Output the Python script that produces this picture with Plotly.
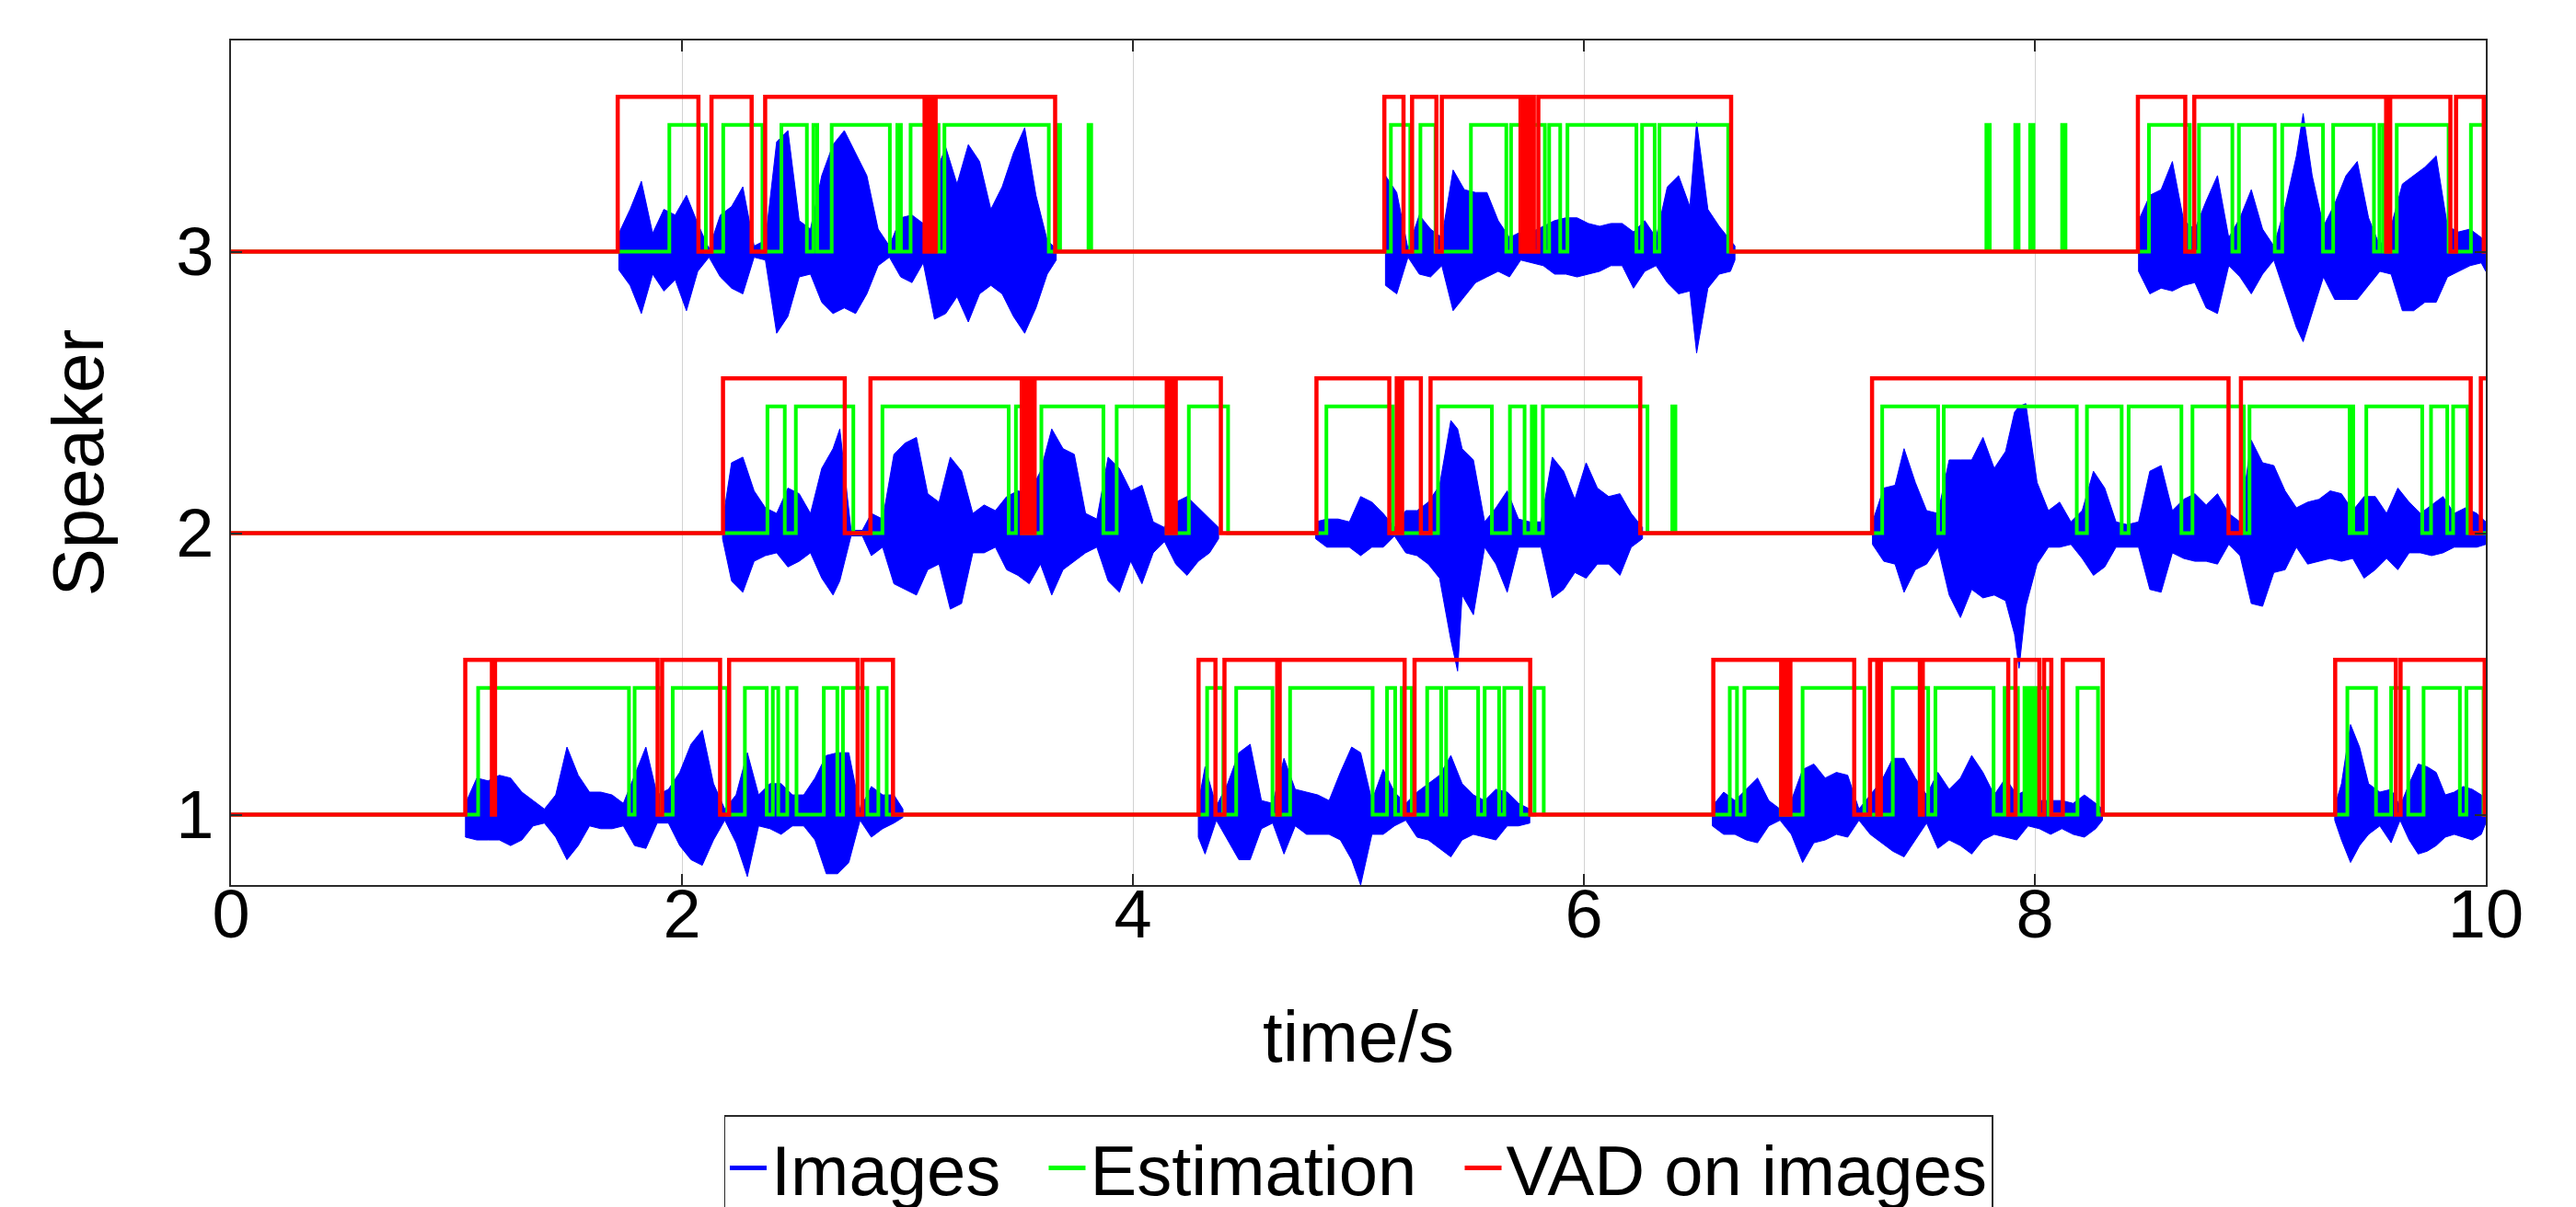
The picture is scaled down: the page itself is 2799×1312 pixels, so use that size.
import plotly.graph_objects as go

# ---------------- data ----------------
T_END = 10.0

# VAD on images (red): transition times (rise, fall, rise, ...) per speaker
vad_s1 = [1.039, 1.157, 1.171, 1.892, 1.912, 2.169, 2.209, 2.779, 2.800, 2.936,
          4.291, 4.366, 4.406, 4.640, 4.651, 5.205, 5.249, 5.762,
          6.574, 6.875, 6.887, 6.899, 6.916, 7.199, 7.269, 7.301, 7.317, 7.490, 7.503,
          7.882, 7.914, 8.020, 8.041, 8.073, 8.124, 8.301,
          9.332, 9.601, 9.622, 9.995]
vad_s2 = [2.182, 2.722, 2.836, 3.507, 3.517, 3.527, 3.537, 3.547, 3.564,
          4.150, 4.162, 4.174, 4.190, 4.390,
          4.814, 5.137, 5.170, 5.182, 5.194, 5.277, 5.320, 6.250,
          7.278, 8.859, 8.914, 9.933, 9.978]
vad_s3 = [1.715, 2.073, 2.131, 2.309, 2.369, 3.076, 3.086, 3.096, 3.106, 3.116, 3.125, 3.655,
          5.115, 5.200, 5.238, 5.346, 5.370, 5.719, 5.729, 5.739, 5.749, 5.757, 5.765,
          5.778, 5.798, 6.653,
          8.457, 8.667, 8.707, 9.558, 9.576, 9.843, 9.868, 9.991]

# Estimation (green): transition times per speaker
est_s1 = [1.096, 1.765, 1.790, 1.910, 1.959, 2.201, 2.279, 2.376, 2.403, 2.427, 2.467, 2.508,
          2.629, 2.689, 2.714, 2.822, 2.871, 2.908,
          4.329, 4.401, 4.458, 4.619, 4.697, 5.063, 5.127, 5.163, 5.192, 5.237, 5.305, 5.367,
          5.389, 5.531, 5.560, 5.624, 5.647, 5.722, 5.781, 5.822,
          6.647, 6.679, 6.712, 6.873, 6.970, 7.244, 7.370, 7.527, 7.559, 7.817, 7.866, 7.925,
          7.954, 7.964, 7.974, 7.984, 7.994, 8.004, 8.012, 8.060, 8.189, 8.280,
          9.386, 9.513, 9.580, 9.656, 9.724, 9.885, 9.914, 9.990]
est_s2 = [2.379, 2.456, 2.505, 2.760, 2.889, 3.449, 3.481, 3.510, 3.594, 3.869, 3.928, 4.150,
          4.248, 4.422,
          4.858, 5.153, 5.353, 5.592, 5.672, 5.737, 5.769, 5.785, 5.818, 6.282, 6.392, 6.406,
          7.323, 7.571, 7.596, 8.186, 8.231, 8.385, 8.416, 8.650, 8.699, 8.927, 8.952, 9.396,
          9.404, 9.412, 9.470, 9.718, 9.757, 9.829, 9.855, 9.919]
est_s3 = [1.944, 2.106, 2.183, 2.357, 2.441, 2.554, 2.583, 2.600, 2.664, 2.922, 2.955, 2.971,
          3.014, 3.138, 3.164, 3.627, 3.665, 3.677, 3.803, 3.815,
          5.144, 5.230, 5.275, 5.342, 5.499, 5.656, 5.677, 5.827, 5.846, 5.895, 5.927, 6.233,
          6.258, 6.314, 6.335, 6.640,
          7.785, 7.800, 7.913, 7.928, 7.979, 7.994, 8.121, 8.136,
          8.506, 8.687, 8.728, 8.876, 8.905, 9.064, 9.097, 9.278, 9.323, 9.504, 9.528, 9.545,
          9.605, 9.835, 9.934]

# Images (blue): waveform envelope (time, upper amplitude, lower amplitude) per segment
s1a_t = [1.04, 1.09, 1.14, 1.19, 1.24, 1.29, 1.34, 1.39, 1.44, 1.49, 1.54, 1.59, 1.64, 1.69, 1.74,
         1.79, 1.84, 1.89, 1.94, 1.99, 2.04, 2.09, 2.14, 2.19, 2.24, 2.29, 2.34, 2.39, 2.44, 2.49,
         2.54, 2.59, 2.64, 2.69, 2.74, 2.79, 2.84, 2.89, 2.94, 2.98]
s1a_up = [0.04, 0.13, 0.12, 0.14, 0.13, 0.08, 0.05, 0.02, 0.07, 0.24, 0.14, 0.08, 0.08, 0.07, 0.04,
          0.14, 0.24, 0.07, 0.09, 0.15, 0.25, 0.30, 0.11, 0.02, 0.07, 0.22, 0.07, 0.11, 0.11, 0.07,
          0.07, 0.13, 0.21, 0.22, 0.22, 0.02, 0.10, 0.07, 0.07, 0.02]
s1a_lo = [0.08, 0.09, 0.09, 0.09, 0.11, 0.09, 0.04, 0.03, 0.08, 0.16, 0.11, 0.04, 0.05, 0.05, 0.04,
          0.11, 0.12, 0.03, 0.03, 0.11, 0.16, 0.18, 0.09, 0.02, 0.10, 0.22, 0.04, 0.05, 0.07, 0.04,
          0.04, 0.09, 0.21, 0.21, 0.17, 0.02, 0.08, 0.05, 0.03, 0.01]

s1b_t = [4.29, 4.32, 4.37, 4.42, 4.47, 4.52, 4.57, 4.62, 4.67, 4.72, 4.77, 4.82, 4.87, 4.92, 4.97,
         5.01, 5.06, 5.11, 5.16, 5.21, 5.26, 5.31, 5.36, 5.41, 5.46, 5.51, 5.56, 5.61, 5.66, 5.71, 5.76]
s1b_up = [0.04, 0.17, 0.03, 0.11, 0.22, 0.25, 0.05, 0.04, 0.20, 0.09, 0.08, 0.07, 0.05, 0.15, 0.24,
          0.22, 0.05, 0.16, 0.08, 0.04, 0.08, 0.11, 0.14, 0.21, 0.11, 0.07, 0.05, 0.09, 0.08, 0.04, 0.02]
s1b_lo = [0.08, 0.14, 0.02, 0.09, 0.16, 0.16, 0.05, 0.03, 0.14, 0.04, 0.07, 0.07, 0.07, 0.09, 0.16,
          0.25, 0.07, 0.07, 0.04, 0.02, 0.08, 0.09, 0.12, 0.15, 0.09, 0.07, 0.08, 0.09, 0.04, 0.04, 0.03]

s1c_t = [6.57, 6.62, 6.67, 6.72, 6.77, 6.82, 6.87, 6.92, 6.97, 7.02, 7.07, 7.12, 7.17, 7.22, 7.27,
         7.32, 7.37, 7.42, 7.47, 7.52, 7.57, 7.62, 7.67, 7.72, 7.77, 7.82, 7.87, 7.92, 7.97, 8.02,
         8.07, 8.12, 8.17, 8.22, 8.27, 8.30]
s1c_up = [0.03, 0.08, 0.05, 0.09, 0.13, 0.05, 0.02, 0.05, 0.16, 0.18, 0.13, 0.15, 0.14, 0.02, 0.07,
          0.12, 0.20, 0.20, 0.13, 0.07, 0.15, 0.09, 0.13, 0.21, 0.15, 0.07, 0.13, 0.07, 0.09, 0.05,
          0.05, 0.05, 0.04, 0.07, 0.04, 0.02]
s1c_lo = [0.04, 0.07, 0.07, 0.09, 0.10, 0.04, 0.02, 0.07, 0.17, 0.10, 0.09, 0.07, 0.08, 0.02, 0.07,
          0.10, 0.13, 0.15, 0.09, 0.03, 0.12, 0.09, 0.11, 0.14, 0.09, 0.07, 0.08, 0.09, 0.04, 0.05,
          0.07, 0.05, 0.07, 0.08, 0.05, 0.02]

s1d_t = [9.33, 9.36, 9.40, 9.44, 9.48, 9.53, 9.58, 9.62, 9.66, 9.70, 9.74, 9.78, 9.82, 9.86, 9.90,
         9.94, 9.98, 10.0]
s1d_up = [0.03, 0.11, 0.32, 0.24, 0.11, 0.08, 0.09, 0.03, 0.11, 0.18, 0.17, 0.15, 0.07, 0.08, 0.10,
          0.09, 0.07, 0.04]
s1d_lo = [0.02, 0.09, 0.17, 0.11, 0.07, 0.04, 0.10, 0.02, 0.09, 0.14, 0.13, 0.11, 0.08, 0.07, 0.08,
          0.09, 0.07, 0.03]

s2a_t = [2.18, 2.22, 2.27, 2.32, 2.37, 2.42, 2.47, 2.52, 2.57, 2.62, 2.67, 2.70, 2.75, 2.80, 2.84,
         2.89, 2.94, 2.99, 3.04, 3.09, 3.14, 3.19, 3.24, 3.29, 3.34, 3.39, 3.44, 3.49, 3.54, 3.59,
         3.64, 3.69, 3.74, 3.79, 3.84, 3.89, 3.94, 3.99, 4.04, 4.09, 4.14, 4.19, 4.24, 4.29, 4.34, 4.38]
s2a_up = [0.04, 0.25, 0.27, 0.15, 0.09, 0.07, 0.16, 0.14, 0.07, 0.23, 0.30, 0.37, 0.01, 0.01, 0.07,
          0.05, 0.28, 0.32, 0.34, 0.14, 0.11, 0.27, 0.22, 0.07, 0.10, 0.08, 0.13, 0.15, 0.14, 0.22,
          0.37, 0.30, 0.28, 0.07, 0.05, 0.27, 0.23, 0.15, 0.17, 0.04, 0.02, 0.11, 0.13, 0.09, 0.05, 0.02]
s2a_lo = [0.02, 0.17, 0.21, 0.10, 0.08, 0.07, 0.12, 0.10, 0.07, 0.16, 0.22, 0.17, 0.01, 0.01, 0.08,
          0.05, 0.18, 0.20, 0.22, 0.13, 0.11, 0.27, 0.25, 0.07, 0.07, 0.05, 0.13, 0.15, 0.18, 0.11,
          0.22, 0.13, 0.10, 0.07, 0.05, 0.17, 0.21, 0.10, 0.18, 0.07, 0.03, 0.11, 0.15, 0.10, 0.07, 0.02]

s2b_t = [4.81, 4.86, 4.91, 4.96, 5.01, 5.06, 5.11, 5.16, 5.21, 5.26, 5.31, 5.36, 5.41, 5.44, 5.46,
         5.51, 5.56, 5.61, 5.66, 5.71, 5.76, 5.81, 5.86, 5.91, 5.96, 6.01, 6.06, 6.11, 6.16, 6.21, 6.26]
s2b_up = [0.04, 0.05, 0.05, 0.04, 0.13, 0.11, 0.07, 0.02, 0.08, 0.08, 0.11, 0.17, 0.40, 0.37, 0.30,
          0.26, 0.04, 0.09, 0.15, 0.05, 0.04, 0.04, 0.27, 0.22, 0.12, 0.25, 0.16, 0.13, 0.14, 0.07, 0.02]
s2b_lo = [0.02, 0.05, 0.05, 0.05, 0.08, 0.05, 0.05, 0.01, 0.07, 0.08, 0.11, 0.16, 0.38, 0.49, 0.22,
          0.29, 0.05, 0.11, 0.21, 0.05, 0.05, 0.05, 0.23, 0.20, 0.14, 0.16, 0.11, 0.11, 0.15, 0.05, 0.02]

s2c_t = [7.28, 7.33, 7.38, 7.42, 7.47, 7.52, 7.57, 7.62, 7.67, 7.72, 7.77, 7.82, 7.87, 7.91, 7.93,
         7.96, 8.01, 8.06, 8.11, 8.16, 8.21, 8.26, 8.31, 8.36, 8.41, 8.46, 8.51, 8.56, 8.61, 8.66,
         8.71, 8.76, 8.81, 8.86, 8.91, 8.96, 9.01, 9.06, 9.11, 9.16, 9.21, 9.26, 9.31, 9.36, 9.41,
         9.46, 9.51, 9.56, 9.61, 9.66, 9.71, 9.76, 9.81, 9.86, 9.91, 9.96, 10.0]
s2c_up = [0.04, 0.16, 0.17, 0.30, 0.18, 0.08, 0.07, 0.26, 0.26, 0.26, 0.34, 0.23, 0.29, 0.43, 0.45,
          0.46, 0.18, 0.08, 0.11, 0.04, 0.08, 0.22, 0.16, 0.04, 0.03, 0.04, 0.22, 0.24, 0.08, 0.12,
          0.14, 0.10, 0.14, 0.07, 0.04, 0.33, 0.25, 0.24, 0.15, 0.09, 0.11, 0.12, 0.15, 0.14, 0.08,
          0.13, 0.13, 0.07, 0.16, 0.11, 0.07, 0.10, 0.13, 0.07, 0.09, 0.07, 0.04]
s2c_lo = [0.04, 0.10, 0.11, 0.21, 0.13, 0.11, 0.05, 0.22, 0.30, 0.20, 0.23, 0.22, 0.24, 0.36, 0.48,
          0.26, 0.11, 0.05, 0.05, 0.04, 0.09, 0.15, 0.12, 0.05, 0.05, 0.05, 0.20, 0.21, 0.07, 0.09,
          0.10, 0.10, 0.11, 0.04, 0.08, 0.25, 0.26, 0.14, 0.13, 0.05, 0.11, 0.10, 0.09, 0.10, 0.09,
          0.16, 0.13, 0.09, 0.13, 0.07, 0.07, 0.08, 0.07, 0.05, 0.05, 0.05, 0.04]

s3a_t = [1.72, 1.77, 1.82, 1.87, 1.92, 1.97, 2.02, 2.07, 2.12, 2.17, 2.22, 2.27, 2.32, 2.37, 2.42,
         2.47, 2.52, 2.57, 2.62, 2.67, 2.72, 2.77, 2.82, 2.87, 2.92, 2.97, 3.02, 3.07, 3.12, 3.17,
         3.22, 3.27, 3.32, 3.37, 3.42, 3.47, 3.52, 3.57, 3.62, 3.66]
s3a_up = [0.065, 0.15, 0.25, 0.065, 0.15, 0.13, 0.20, 0.10, 0.01, 0.13, 0.16, 0.23, 0.02, 0.04, 0.39,
          0.43, 0.11, 0.08, 0.27, 0.38, 0.43, 0.35, 0.27, 0.08, 0.02, 0.12, 0.13, 0.10, 0.27, 0.37,
          0.24, 0.38, 0.32, 0.15, 0.23, 0.35, 0.44, 0.20, 0.04, 0.01]
s3a_lo = [0.065, 0.12, 0.22, 0.08, 0.14, 0.10, 0.21, 0.07, 0.02, 0.09, 0.13, 0.15, 0.02, 0.03, 0.29,
          0.23, 0.09, 0.08, 0.18, 0.22, 0.20, 0.22, 0.15, 0.05, 0.02, 0.09, 0.11, 0.04, 0.24, 0.22,
          0.16, 0.25, 0.15, 0.12, 0.15, 0.23, 0.29, 0.20, 0.08, 0.03]

s3b_t = [5.12, 5.17, 5.22, 5.27, 5.32, 5.37, 5.42, 5.47, 5.52, 5.57, 5.62, 5.67, 5.72, 5.77, 5.82,
         5.87, 5.92, 5.97, 6.02, 6.07, 6.12, 6.17, 6.22, 6.27, 6.32, 6.37, 6.42, 6.47, 6.50, 6.55,
         6.60, 6.65, 6.67]
s3b_up = [0.27, 0.21, 0.01, 0.13, 0.08, 0.05, 0.29, 0.22, 0.21, 0.21, 0.11, 0.05, 0.07, 0.07, 0.09,
          0.11, 0.12, 0.12, 0.10, 0.09, 0.10, 0.10, 0.07, 0.11, 0.05, 0.23, 0.27, 0.16, 0.46, 0.15,
          0.09, 0.04, 0.02]
s3b_lo = [0.12, 0.15, 0.02, 0.08, 0.09, 0.05, 0.21, 0.16, 0.11, 0.09, 0.07, 0.09, 0.03, 0.04, 0.05,
          0.08, 0.08, 0.09, 0.08, 0.07, 0.05, 0.05, 0.13, 0.07, 0.05, 0.11, 0.15, 0.14, 0.36, 0.13,
          0.08, 0.07, 0.03]

s3c_t = [8.46, 8.51, 8.56, 8.61, 8.66, 8.71, 8.76, 8.81, 8.86, 8.91, 8.96, 9.01, 9.06, 9.11, 9.16,
         9.19, 9.23, 9.28, 9.33, 9.38, 9.43, 9.48, 9.53, 9.58, 9.63, 9.68, 9.73, 9.78, 9.83, 9.88,
         9.93, 9.98, 10.0]
s3c_up = [0.11, 0.20, 0.22, 0.32, 0.11, 0.08, 0.18, 0.27, 0.05, 0.12, 0.22, 0.08, 0.02, 0.16, 0.34,
          0.49, 0.27, 0.09, 0.17, 0.27, 0.32, 0.12, 0.02, 0.09, 0.24, 0.27, 0.30, 0.34, 0.09, 0.07,
          0.08, 0.05, 0.03]
s3c_lo = [0.07, 0.15, 0.13, 0.14, 0.12, 0.11, 0.20, 0.22, 0.05, 0.09, 0.15, 0.08, 0.03, 0.15, 0.27,
          0.32, 0.22, 0.09, 0.17, 0.17, 0.17, 0.12, 0.07, 0.08, 0.21, 0.21, 0.18, 0.18, 0.09, 0.07,
          0.05, 0.04, 0.07]

x_ticks = [0, 2, 4, 6, 8, 10]
y_ticks = [1, 2, 3]
legend_names = ["Images", "Estimation", "VAD on images"]

# ---------------- styling ----------------
BLUE, GREEN, RED = "#0000ff", "#00ff00", "#ff0000"
VAD_LEVEL = 0.55
EST_LEVEL = 0.45
FONT = "Liberation Sans, Arial, Helvetica, sans-serif"
AXC = "#2a2a2a"
LEGEND_PAD = "\u00a0\u00a0"

waves = {
    1: [(s1a_t, s1a_up, s1a_lo), (s1b_t, s1b_up, s1b_lo), (s1c_t, s1c_up, s1c_lo), (s1d_t, s1d_up, s1d_lo)],
    2: [(s2a_t, s2a_up, s2a_lo), (s2b_t, s2b_up, s2b_lo), (s2c_t, s2c_up, s2c_lo)],
    3: [(s3a_t, s3a_up, s3a_lo), (s3b_t, s3b_up, s3b_lo), (s3c_t, s3c_up, s3c_lo)],
}
vads = {1: vad_s1, 2: vad_s2, 3: vad_s3}
ests = {1: est_s1, 2: est_s2, 3: est_s3}

for spk, segs in waves.items():
    for t, u, l in segs:
        assert len(t) == len(u) == len(l), (spk, len(t), len(u), len(l))


def step_xy(trans, base, level):
    x = [0.0] + list(trans) + [T_END]
    y = [base]
    state = False
    for _ in trans:
        state = not state
        y.append(base + level if state else base)
    y.append(y[-1])
    return x, y


def wave_xy(segs, base):
    xs, ys = [], []
    for t, up, lo in segs:
        xs += list(t) + list(t)[::-1] + [t[0], None]
        ys += [base + v for v in up] + [base - v for v in lo][::-1] + [base + up[0], None]
    return xs, ys


fig = go.Figure()

# legend entries (line samples)
for i, (name, col) in enumerate(zip(legend_names, [BLUE, GREEN, RED])):
    label = name + (LEGEND_PAD if i < len(legend_names) - 1 else "")
    fig.add_trace(go.Scatter(x=[None], y=[None], mode="lines", name=label,
                             line=dict(color=col, width=5), showlegend=True))

for spk in [1, 2, 3]:
    x, y = wave_xy(waves[spk], spk)
    fig.add_trace(go.Scatter(x=x, y=y, mode="lines", fill="toself", fillcolor=BLUE,
                             line=dict(color=BLUE, width=1), showlegend=False,
                             hoverinfo="skip"))
for spk in [1, 2, 3]:
    x, y = step_xy(ests[spk], spk, EST_LEVEL)
    fig.add_trace(go.Scatter(x=x, y=y, mode="lines", line=dict(color=GREEN, width=4, shape="hv"),
                             showlegend=False))
for spk in [1, 2, 3]:
    x, y = step_xy(vads[spk], spk, VAD_LEVEL)
    fig.add_trace(go.Scatter(x=x, y=y, mode="lines", line=dict(color=RED, width=4.5, shape="hv"),
                             showlegend=False))

axis_common = dict(
    ticks="inside", ticklen=12, tickwidth=1.5, tickcolor=AXC,
    showline=True, linecolor=AXC, linewidth=1.5, mirror="ticks",
    showgrid=True, gridcolor="#d2d2d2", gridwidth=1.3, zeroline=False,
    tickfont=dict(size=74, color="black", family=FONT),
    automargin=False,
)

fig.update_layout(
    width=2799, height=1312,
    margin=dict(l=251, r=98, t=44, b=350, autoexpand=False),
    paper_bgcolor="white", plot_bgcolor="white",
    font=dict(family=FONT, color="black", size=76),
    xaxis=dict(range=[0, T_END], tickvals=x_ticks, ticktext=[str(v) for v in x_ticks],
               ticklabelstandoff=-34,
               title=dict(text="time/s", font=dict(size=78, family=FONT), standoff=66),
               **axis_common),
    yaxis=dict(range=[0.75, 3.75], tickvals=y_ticks, ticktext=[str(v) for v in y_ticks],
               ticklabelstandoff=2,
               title=dict(text="Speaker", font=dict(size=78, family=FONT), standoff=53),
               **axis_common),
    legend=dict(orientation="h", x=0.5, xanchor="center", y=-0.2725, yanchor="top",
                bgcolor="white", bordercolor=AXC, borderwidth=1.5,
                font=dict(size=76, family=FONT, color="black"),
                traceorder="normal", itemwidth=40),
    showlegend=True,
)

fig.write_html("out.html", config={"displayModeBar": False},
               post_script="document.body.style.margin='0';document.body.style.overflow='hidden';")
